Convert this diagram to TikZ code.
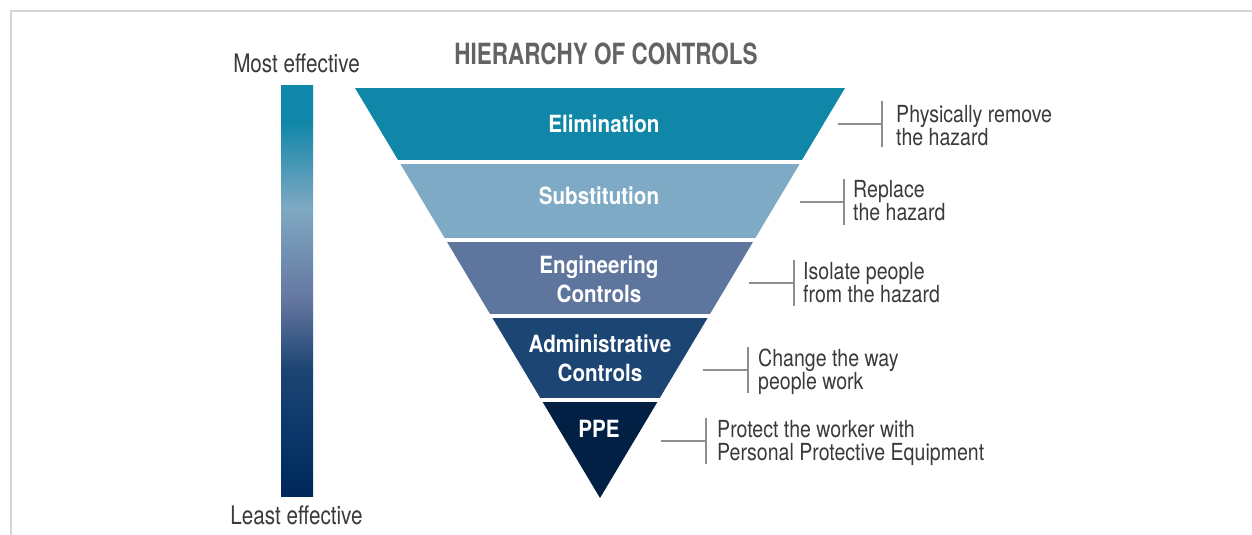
\documentclass[tikz,border=0pt]{standalone}
\usepackage{fontspec}
\setmainfont{TeX Gyre Heros}
\newfontfamily\labelfont[FakeStretch=0.832]{TeX Gyre Heros}
\newfontfamily\endfont[FakeStretch=0.81]{TeX Gyre Heros}
\newfontfamily\bandfont[FakeStretch=0.87]{TeX Gyre Heros}
\newfontfamily\headfont[FakeStretch=0.77]{TeX Gyre Heros}

\definecolor{elimC}{HTML}{1086A8}
\definecolor{substC}{HTML}{7EAAC5}
\definecolor{engC}{HTML}{5E769E}
\definecolor{adminC}{HTML}{1D4573}
\definecolor{ppeC}{HTML}{021F44}
\definecolor{barBottom}{HTML}{00285A}
\definecolor{barDark}{HTML}{0B376A}
\definecolor{barMid}{HTML}{6577A0}
\definecolor{barLight}{HTML}{7FA9C3}
\definecolor{frameC}{HTML}{D6D6D6}
\definecolor{brackC}{HTML}{8E8E8E}
\definecolor{labelC}{HTML}{3A3A3A}
\definecolor{headC}{HTML}{636363}

% effectiveness bar: bottom (least) to top (most); path spans 25bp..75bp
\pgfdeclareverticalshading{effbar}{100bp}{%
  color(0bp)=(barBottom); color(25bp)=(barBottom); color(33bp)=(barDark);
  color(40.5bp)=(adminC); color(49bp)=(barMid); color(60bp)=(barLight);
  color(70.5bp)=(elimC); color(75bp)=(elimC); color(100bp)=(elimC)}

\begin{document}
\begin{tikzpicture}[x=1pt,y=-1pt,
  bandtext/.style={font=\bandfont\bfseries\fontsize{23.7}{29}\selectfont,
    text=white, align=center, anchor=base, inner sep=0pt},
  lbl/.style={font=\labelfont\fontsize{23.5}{23}\selectfont,
    text=labelC, align=left, anchor=base west, inner sep=0pt},
  bracket/.style={draw=brackC, line width=2pt},
  endlabel/.style={font=\endfont\fontsize{25.5}{28}\selectfont,
    text=labelC, anchor=base, inner sep=0pt}]
\useasboundingbox[fill=white] (0,0) rectangle (1252,535);

% frame
\draw[frameC, line width=2pt] (1260,11.5) -- (10.5,11.5) -- (10.5,545);

% title
\node[font=\headfont\bfseries\fontsize{29.2}{32}\selectfont, text=headC,
  anchor=base, inner sep=0pt] (title) at (606,64) {HIERARCHY OF CONTROLS};

% effectiveness scale
\shade[shading=effbar] (281,85) rectangle (313,496);
\node[endlabel] (most) at (296.5,73) {Most effective};
\node[endlabel] (least) at (296.5,524) {Least effective};

% inverted triangle cut into five bands
\begin{scope}
  \clip (355,88) -- (845,88) -- (600,498) -- cycle;
  \fill[elimC]  (300,88)  rectangle (900,160);
  \fill[substC] (300,164) rectangle (900,237.5);
  \fill[engC]   (300,242) rectangle (900,314);
  \fill[adminC] (300,318) rectangle (900,398);
  \fill[ppeC]   (300,402) rectangle (900,500);
\end{scope}

% band names (base anchor = baseline of the last line)
\node[bandtext] (elim)  at (604,132.5) {Elimination};
\node[bandtext] (subst) at (599,204.5) {Substitution};
\node[bandtext] (eng)   at (599,302) {Engineering\\Controls};
\node[bandtext] (admin) at (600,381) {Administrative\\Controls};
\node[bandtext] (ppe)   at (599,437) {PPE};

% descriptions
\node[lbl] (elimL)  at (896,145) {Physically remove\\the hazard};
\node[lbl] (substL) at (853,220.5) {Replace\\the hazard};
\node[lbl] (engL)   at (803,302) {Isolate people\\from the hazard};
\node[lbl] (adminL) at (758,389.5) {Change the way\\people work};
\node[lbl] (ppeL)   at (717,460.5) {Protect the worker with\\Personal Protective Equipment};

% bracket connectors
\coordinate (elimA) at (838,124);  \coordinate (elimB) at (882,124);
\coordinate (substA) at (800,202); \coordinate (substB) at (844,202);
\coordinate (engA) at (749,283);   \coordinate (engB) at (794,283);
\coordinate (adminA) at (703,370); \coordinate (adminB) at (748,370);
\coordinate (ppeA) at (661,441);   \coordinate (ppeB) at (706,441);
\foreach \k in {elim,subst,eng,admin,ppe}{
  \draw[bracket] (\k A) -- (\k B);
  \draw[bracket] ([yshift=-23pt]\k B) -- ([yshift=23pt]\k B);
}
\end{tikzpicture}
\end{document}
